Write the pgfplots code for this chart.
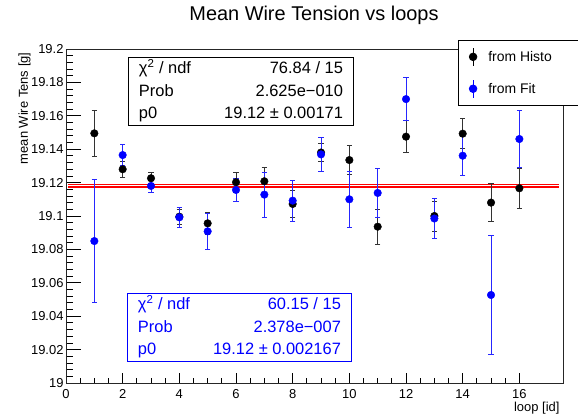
\documentclass[border=0pt]{standalone}
\usepackage{fontspec}
\setmainfont{Liberation Sans}
\usepackage{pgfplots}
\usepackage{pgfplotstable}
\pgfplotsset{compat=1.18}

\pgfplotstableread{
x y e
1 19.1495 0.0138
2 19.1280 0.0049
3 19.1226 0.0034
4 19.0996 0.0045
5 19.0956 0.0066
6 19.1202 0.0060
7 19.1208 0.0082
8 19.1072 0.0078
9 19.1380 0.0055
10 19.1335 0.0085
11 19.0936 0.0105
12 19.1475 0.0097
13 19.1000 0.0090
14 19.1493 0.0091
15 19.1080 0.0112
16 19.1166 0.0120
}\histodata

\pgfplotstableread{
x y e
1 19.0850 0.0370
2 19.1365 0.0064
3 19.1180 0.0036
4 19.0992 0.0058
5 19.0908 0.0108
6 19.1156 0.0067
7 19.1128 0.0135
8 19.1092 0.0122
9 19.1369 0.0100
10 19.1100 0.0168
11 19.1138 0.0144
12 19.1700 0.0130
13 19.0985 0.0118
14 19.1361 0.0116
15 19.0527 0.0356
16 19.1461 0.0170
}\fitdata

\begin{document}
\begin{tikzpicture}
\path[use as bounding box] (-66bp,-31bp) rectangle (512bp,383bp);
\begin{axis}[
  at={(0,0)}, anchor=south west,
  scale only axis, width=497bp, height=334bp,
  xmin=0, xmax=17.54, ymin=19, ymax=19.2,
  axis line style={line width=0.9bp, black!85},
  xtick={0,2,...,16}, minor x tick num=3,
  ytick={19,19.02,19.04,19.06,19.08,19.1,19.12,19.14,19.16,19.18,19.2},
  minor y tick num=4,
  xtick pos=bottom, ytick pos=left, tick align=inside,
  major tick length=12bp, minor tick length=6.5bp,
  tick style={line width=0.8bp, black},
  xtick style={/pgfplots/major tick length=10bp, /pgfplots/minor tick length=5bp},
  ytick style={/pgfplots/major tick length=15bp, /pgfplots/minor tick length=7.5bp},
  /pgf/number format/assume math mode=true,
  yticklabel style={/pgf/number format/fixed, /pgf/number format/precision=2},
  tick label style={font=\fontsize{13}{13}\selectfont},
  xticklabel style={yshift=-3.2bp},
  yticklabel style={xshift=1bp},
  title={Mean Wire Tension vs loops},
  title style={at={(axis description cs:0.499,1.0689)}, anchor=base, font=\fontsize{20}{20}\selectfont},
  ylabel={mean Wire Tens [g]},
  ylabel style={at={(axis description cs:-0.0765,1)}, anchor=base east, font=\fontsize{13}{13}\selectfont},
  xlabel={loop [id]},
  xlabel style={at={(axis description cs:1,-0.084)}, anchor=base east, font=\fontsize{13}{13}\selectfont},
  legend style={at={(axis description cs:0.7887,1.0269)}, anchor=north west,
    draw=black, line width=0.8bp, fill=white,
    inner xsep=10.5bp, inner ysep=7bp, row sep=13bp, column sep=9bp,
    font=\fontsize{14}{14}\selectfont},
  legend cell align=left,
  legend image code/.code={
    \draw[line width=0.9bp] (0bp,-9bp) -- (0bp,9bp);
    \fill (0bp,0bp) circle (3.8bp);
  },
]
\addplot[red, line width=1.3bp, forget plot] coordinates {(0.08,19.1189) (17.4,19.1189)};
\addplot[red, line width=1.3bp, forget plot] coordinates {(0.08,19.1174) (17.4,19.1174)};

\addplot[black, only marks, mark=*, mark size=3.8bp, mark options={fill=black, draw=black},
  error bars/.cd, y dir=both, y explicit,
  error bar style={line width=0.9bp, black!80},
  error mark options={rotate=90, mark size=2.6bp, line width=0.9bp, black!80}]
  table[x=x, y=y, y error=e] {\histodata};
\addlegendentry{from Histo\hspace*{40bp}}

\addplot[blue, only marks, mark=*, mark size=3.8bp, mark options={fill=blue, draw=blue},
  error bars/.cd, y dir=both, y explicit,
  error bar style={line width=0.9bp, blue!85!white},
  error mark options={rotate=90, mark size=2.6bp, line width=0.9bp, blue!85!white}]
  table[x=x, y=y, y error=e] {\fitdata};
\addlegendentry{from Fit}

\node[draw=black, line width=0.9bp, fill=white, anchor=north west, inner xsep=10.5bp, inner ysep=0.5bp,
  font=\fontsize{16.5}{22.5}\selectfont]
  at (axis description cs:0.12475,0.97605)
  {\begin{tabular*}{204bp}{@{}l@{\extracolsep{0pt plus 1fill}}r@{}}
   χ\textsuperscript{2} / ndf & 76.84 / 15\\
   Prob & 2.625e−010\\
   p0 & 19.12 ± 0.00171
   \end{tabular*}};

\node[draw=blue, line width=0.9bp, fill=white, text=blue, anchor=north west, inner xsep=10.5bp, inner ysep=0.5bp,
  font=\fontsize{16.5}{22.5}\selectfont]
  at (axis description cs:0.1227,0.2695)
  {\begin{tabular*}{203bp}{@{}l@{\extracolsep{0pt plus 1fill}}r@{}}
   χ\textsuperscript{2} / ndf & 60.15 / 15\\
   Prob & 2.378e−007\\
   p0 & 19.12 ± 0.002167
   \end{tabular*}};
\end{axis}
\end{tikzpicture}
\end{document}
